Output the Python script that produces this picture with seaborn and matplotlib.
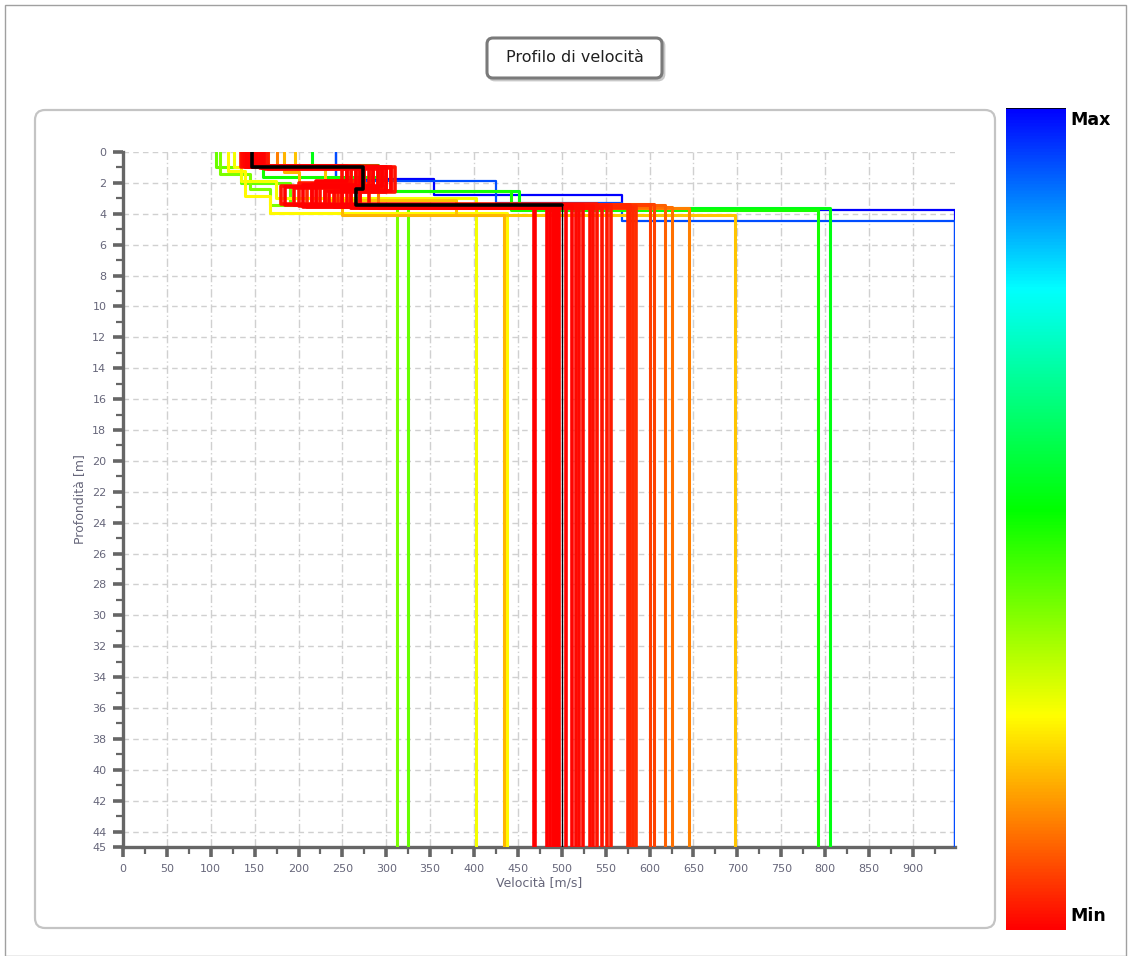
import numpy as np
import matplotlib
matplotlib.use("Agg")
import matplotlib.pyplot as plt
from matplotlib.colors import LinearSegmentedColormap
from matplotlib.patches import FancyBboxPatch, Rectangle
from matplotlib.ticker import MultipleLocator, FixedLocator
from matplotlib.transforms import IdentityTransform
import seaborn as sns

# Shear-wave velocity (m/s) of each inverted model: three layers over a half-space
vs_layer1 = [243, 243, 215, 160, 106, 111, 126, 120, 196, 183, 175, 165, 155, 150, 148,
             145, 160, 140, 152, 138, 165, 142, 135, 158, 147, 137, 162, 144, 150, 139,
             156, 143, 148, 153, 141, 159, 146, 151]
vs_layer2 = [354, 425, 290, 300, 135, 145, 134, 139, 230, 200, 270, 285, 260, 300, 280,
             295, 305, 275, 265, 290, 255, 310, 285, 250, 300, 270, 295, 260, 280, 305,
             265, 290, 275, 300, 255, 285, 270, 295]
vs_layer3 = [569, 569, 451, 442, 190, 168, 174, 168, 379, 250, 290, 250, 230, 220, 240,
             250, 260, 230, 210, 245, 200, 270, 180, 225, 280, 195, 240, 215, 255, 230,
             205, 260, 185, 235, 220, 270, 250, 215]
vs_halfspace = [948, 948, 806, 792, 325, 312, 402, 437, 697, 434, 645, 625, 618, 605, 600,
                585, 581, 578, 575, 556, 551, 546, 540, 536, 532, 524, 520, 516, 512, 505,
                497, 495, 492, 490, 487, 483, 470, 468]
# Depth (m) of the bottom of layers 1, 2 and 3
z_bottom1 = [1.77, 1.85, 0.85, 1.65, 1.00, 1.45, 1.00, 1.20, 1.10, 1.30, 1.05, 0.95, 1.00, 1.00, 0.95,
             1.00, 1.05, 0.95, 1.00, 0.90, 1.10, 1.00, 0.95, 1.05, 1.00, 0.90, 1.10, 0.95, 1.00, 0.95,
             1.05, 1.00, 0.95, 1.00, 0.90, 1.05, 1.00, 0.95]
z_bottom2 = [2.80, 3.30, 2.50, 2.55, 2.00, 2.40, 1.90, 2.85, 3.10, 2.20, 2.30, 2.10, 2.40, 2.20, 2.00,
             2.30, 2.50, 1.90, 2.10, 2.40, 2.00, 2.60, 2.20, 1.95, 2.45, 2.30, 2.55, 2.05, 2.35, 2.50,
             2.15, 2.40, 2.25, 2.60, 1.85, 2.45, 2.30, 2.20]
z_bottom3 = [3.77, 4.46, 3.60, 3.75, 3.40, 3.45, 2.97, 3.95, 4.10, 4.05, 3.60, 3.55, 3.45, 3.34, 3.40,
             3.50, 3.60, 3.45, 3.55, 3.40, 3.50, 3.65, 3.35, 3.50, 3.60, 3.45, 3.55, 3.40, 3.50, 3.45,
             3.55, 3.60, 3.40, 3.50, 3.45, 3.55, 3.50, 3.40]
# Normalised misfit of each model (0 = Min, 1 = Max)
misfit = [1.00, 0.93, 0.53, 0.49, 0.41, 0.39, 0.27, 0.255, 0.20, 0.185, 0.13, 0.115, 0.10, 0.07, 0.065,
          0.05, 0.045, 0.04, 0.04, 0.03, 0.025, 0.02, 0.02, 0.015, 0.015, 0.01, 0.01, 0.01, 0.005, 0.005,
          0.0, 0.0, 0.0, 0.0, 0.0, 0.0, 0.0, 0.0]

# Reference model drawn in black
best_vs = [147, 273, 266, 500]
best_z = [0.95, 2.40, 3.45]

max_depth = 45
max_velocity = 948
x_ticks = list(range(0, 901, 50))
x_tick_labels = [str(t) for t in x_ticks]
y_ticks = list(range(0, 45, 2)) + [45]
y_tick_labels = [str(t) for t in y_ticks]

sns.set_style("white")
plt.rcParams["font.family"] = ["DejaVu Sans"]

cmap = LinearSegmentedColormap.from_list(
    "misfit",
    [(0.0, "#ff0000"), (0.13, "#ff8000"), (0.26, "#ffff00"),
     (0.51, "#00ff00"), (0.78, "#00ffff"), (1.0, "#0000ff")])


def step_path(vs, zb):
    v = [vs[0], vs[0], vs[1], vs[1], vs[2], vs[2], vs[3], vs[3]]
    z = [0, zb[0], zb[0], zb[1], zb[1], zb[2], zb[2], max_depth]
    return np.array(v, float), np.array(z, float)


W, H = 1131, 956
fig = plt.figure(figsize=(W / 100, H / 100), dpi=100)
px = IdentityTransform()

# outer frame
fig.patches.append(Rectangle((5, 0), W - 10, H - 5, transform=px, fill=False,
                             edgecolor="#a0a0a0", lw=1.0, zorder=-5))
# plot panel
fig.patches.append(FancyBboxPatch((35, H - 928), 960, 818, boxstyle="round,pad=0,rounding_size=10",
                                  transform=px, facecolor="white", edgecolor="#c4c4c4", lw=1.6,
                                  zorder=-5))
# title box with a soft shadow
fig.patches.append(FancyBboxPatch((489, H - 80), 175, 40, boxstyle="round,pad=0,rounding_size=6",
                                  transform=px, facecolor="#c8c8c8", edgecolor="#c8c8c8", lw=2,
                                  zorder=-4))
fig.patches.append(FancyBboxPatch((487, H - 78), 175, 40, boxstyle="round,pad=0,rounding_size=6",
                                  transform=px, facecolor="white", edgecolor="#7a7a7a", lw=2.2,
                                  zorder=-3))
fig.text(574.5 / W, 1 - 57 / H, "Profilo di velocità", ha="center", va="center",
         fontsize=11.5, color="#202020")

ax = fig.add_axes([123 / W, 1 - 847 / H, (955 - 123) / W, (847 - 152) / H])
ax.set_facecolor("none")

order = np.argsort(misfit, kind="stable")[::-1]
for i in order:
    v, z = step_path([vs_layer1[i], vs_layer2[i], vs_layer3[i], vs_halfspace[i]],
                     [z_bottom1[i], z_bottom2[i], z_bottom3[i]])
    lw = 1.6 if misfit[i] > 0.9 else (2.2 if misfit[i] > 0.06 else 2.6)
    sns.lineplot(x=v, y=z, sort=False, estimator=None, color=cmap(misfit[i]),
                 lw=lw, ax=ax, zorder=3)

bv, bz = step_path(best_vs, best_z)
sns.lineplot(x=bv[:7], y=bz[:7], sort=False, estimator=None, color="black", lw=2.6, ax=ax, zorder=5)
sns.lineplot(x=bv[6:], y=bz[6:], sort=False, estimator=None, color="black", lw=1.0, ax=ax, zorder=5)

ax.set_xlim(0, max_velocity)
ax.set_ylim(max_depth, 0)
ax.xaxis.set_major_locator(FixedLocator(x_ticks))
ax.set_xticklabels(x_tick_labels)
ax.xaxis.set_minor_locator(MultipleLocator(25))
ax.yaxis.set_major_locator(FixedLocator(y_ticks))
ax.set_yticklabels(y_tick_labels)
ax.yaxis.set_minor_locator(MultipleLocator(1))

ax.xaxis.grid(True, which="major", color="#d0d0d0", linestyle=(0, (6, 2, 1, 2)), lw=1.0, zorder=0)
ax.yaxis.grid(True, which="major", color="#d0d0d0", linestyle=(0, (4, 3)), lw=1.0, zorder=0)
ax.set_axisbelow(True)

for s in ("top", "right"):
    ax.spines[s].set_visible(False)
for s in ("left", "bottom"):
    ax.spines[s].set_color("#666666")
    ax.spines[s].set_linewidth(2.4)
ax.tick_params(which="both", bottom=True, left=True, top=False, right=False)
ax.tick_params(which="major", direction="out", length=7, width=2.6, color="#666666",
               labelsize=8, labelcolor="#66667a", pad=5)
ax.tick_params(which="minor", direction="out", length=5, width=1.6, color="#666666")
ax.set_xlabel("Velocità [m/s]", fontsize=9, color="#66667a", labelpad=2)
ax.set_ylabel("Profondità [m]", fontsize=9, color="#66667a", labelpad=4)

# colour scale
cax = fig.add_axes([1006 / W, 1 - 930 / H, 60 / W, 822 / H])
cax.imshow(np.linspace(1, 0, 512)[:, None], aspect="auto", cmap=cmap,
           extent=(0, 1, 0, 1))
cax.set_axis_off()
cax.axhline(1, color="black", lw=1.2)
fig.text(1070 / W, 1 - 120 / H, "Max", ha="left", va="center", fontsize=12.5,
         fontweight="black", color="black")
fig.text(1070 / W, 1 - 916 / H, "Min", ha="left", va="center", fontsize=12.5,
         fontweight="black", color="black")

fig.savefig("out.png", dpi=100)
